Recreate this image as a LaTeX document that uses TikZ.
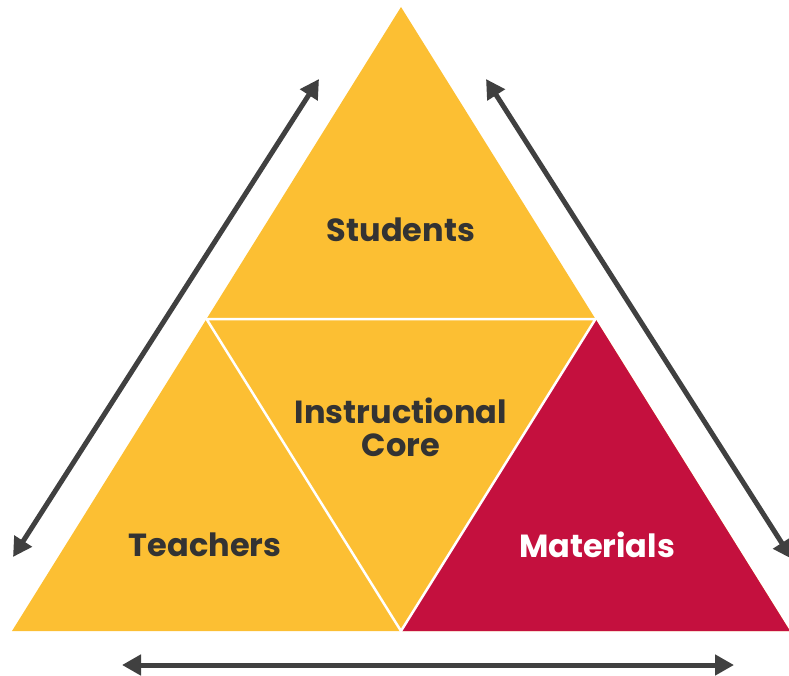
\documentclass[tikz,border=0pt]{standalone}
\usepackage{fontspec}
\setmainfont{Poppins}
\usetikzlibrary{arrows.meta}
\definecolor{goldY}{HTML}{FCBF33}
\definecolor{crimson}{HTML}{C4103E}
\definecolor{txtgray}{HTML}{333333}
\definecolor{arrgray}{HTML}{404040}
\begin{document}
\begin{tikzpicture}[x=1pt,y=-1pt,
  lbl/.style={font=\fontsize{32}{33}\selectfont\bfseries, text=txtgray, align=center},
  dbl/.style={draw=arrgray, line width=5pt, {Triangle[length=19pt,width=20pt]}-{Triangle[length=19pt,width=20pt]}},
  sep/.style={draw=white, line width=2.5pt}]
\useasboundingbox (0,0) rectangle (789,676);
\coordinate (A) at (401,7);
\coordinate (BL) at (12,631);
\coordinate (BR) at (790,631);
\coordinate (ML) at (206.5,319);
\coordinate (MR) at (595.5,319);
\coordinate (MB) at (401,631);
\fill[goldY] (A) -- (BL) -- (BR) -- cycle;
\fill[crimson] (MR) -- (MB) -- (BR) -- cycle;
\draw[sep] (ML) -- (MR) -- (MB) -- cycle;
\node[lbl] (stu) at (401,230) {Students};
\node[lbl] (core) at (401,427) {Instructional\\Core};
\node[lbl] (tea) at (205,545) {Teachers};
\node[lbl, text=white] (mat) at (597,545) {Materials};
\coordinate (l1) at (13,557);
\coordinate (l2) at (319,79);
\coordinate (r1) at (486,79);
\coordinate (r2) at (792,559);
\coordinate (b1) at (122,665);
\coordinate (b2) at (734,665);
\draw[dbl] (l1) -- (l2);
\draw[dbl] (r1) -- (r2);
\draw[dbl] (b1) -- (b2);
\end{tikzpicture}
\end{document}
